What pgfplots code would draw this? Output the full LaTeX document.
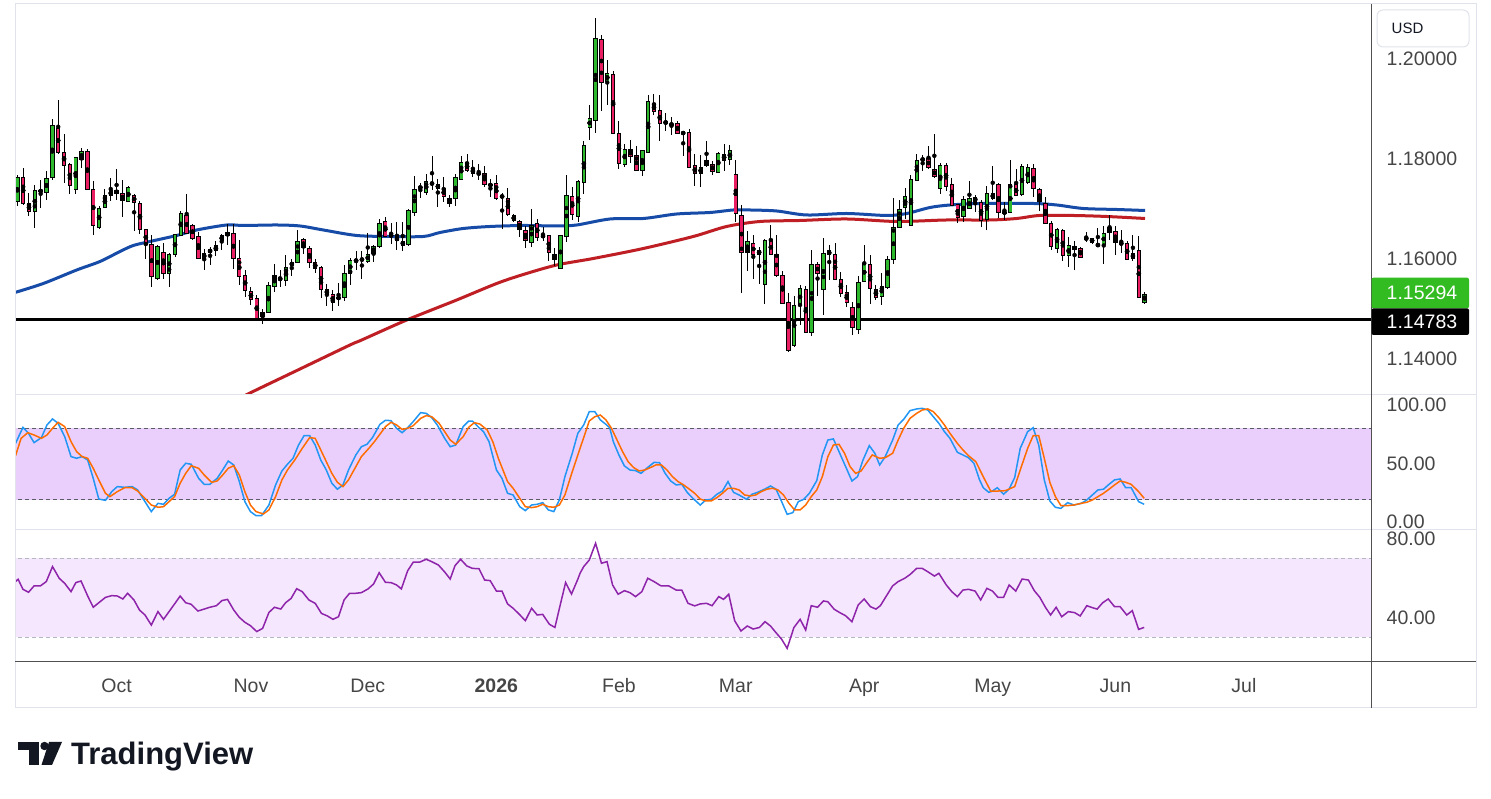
\documentclass[border=0pt]{standalone}
\usepackage{fontspec}
\setmainfont{Liberation Sans}
\usepackage{pgfplots}
\usepackage{pgfplotstable}
\pgfplotsset{compat=1.18}

\definecolor{cgreen}{RGB}{46,184,46}
\definecolor{cpink}{RGB}{233,30,99}
\definecolor{mablue}{RGB}{22,76,168}
\definecolor{mared}{RGB}{190,30,36}
\definecolor{stk}{RGB}{33,150,243}
\definecolor{std}{RGB}{255,109,0}
\definecolor{stband}{RGB}{234,207,252}
\definecolor{stdash}{RGB}{90,92,102}
\definecolor{rsiline}{RGB}{142,36,170}
\definecolor{rsiband}{RGB}{245,231,254}
\definecolor{rsidash}{RGB}{180,182,192}
\definecolor{lblgrey}{RGB}{70,70,70}
\definecolor{framec}{RGB}{224,227,235}
\definecolor{darkline}{RGB}{80,80,80}
\definecolor{badgegreen}{RGB}{51,187,34}
\definecolor{tvblack}{RGB}{19,23,34}

\pgfplotstableread{
i o h l c
0 1.1714 1.1767 1.1705 1.1762
1 1.1762 1.1780 1.1707 1.1710
2 1.1710 1.1730 1.1684 1.1694
3 1.1694 1.1747 1.1662 1.1735
4 1.1735 1.1757 1.1702 1.1735
5 1.1732 1.1776 1.1717 1.1760
6 1.1762 1.1878 1.1757 1.1867
7 1.1860 1.1918 1.1809 1.1812
8 1.1812 1.1849 1.1752 1.1786
9 1.1788 1.1792 1.1730 1.1746
10 1.1738 1.1802 1.1728 1.1802
11 1.1798 1.1820 1.1780 1.1814
12 1.1814 1.1818 1.1738 1.1738
13 1.1738 1.1755 1.1648 1.1666
14 1.1662 1.1706 1.1660 1.1701
15 1.1702 1.1740 1.1702 1.1726
16 1.1726 1.1762 1.1716 1.1735
17 1.1737 1.1778 1.1716 1.1730
18 1.1730 1.1758 1.1684 1.1716
19 1.1714 1.1744 1.1714 1.1742
20 1.1726 1.1729 1.1656 1.1712
21 1.1710 1.1715 1.1650 1.1658
22 1.1657 1.1658 1.1600 1.1628
23 1.1627 1.1648 1.1544 1.1564
24 1.1560 1.1627 1.1558 1.1624
25 1.1612 1.1632 1.1560 1.1570
26 1.1570 1.1612 1.1544 1.1609
27 1.1608 1.1650 1.1604 1.1647
28 1.1646 1.1695 1.1644 1.1689
29 1.1686 1.1729 1.1649 1.1650
30 1.1667 1.1670 1.1638 1.1640
31 1.1644 1.1654 1.1599 1.1600
32 1.1600 1.1620 1.1577 1.1610
33 1.1612 1.1624 1.1587 1.1618
34 1.1616 1.1634 1.1604 1.1625
35 1.1636 1.1650 1.1618 1.1645
36 1.1646 1.1669 1.1627 1.1652
37 1.1650 1.1669 1.1579 1.1600
38 1.1600 1.1637 1.1547 1.1564
39 1.1567 1.1577 1.1524 1.1536
40 1.1534 1.1544 1.1507 1.1518
41 1.1520 1.1527 1.1477 1.1480
42 1.1484 1.1499 1.1470 1.1492
43 1.1492 1.1552 1.1490 1.1546
44 1.1544 1.1590 1.1534 1.1566
45 1.1559 1.1577 1.1544 1.1559
46 1.1556 1.1607 1.1544 1.1582
47 1.1586 1.1598 1.1564 1.1592
48 1.1592 1.1656 1.1592 1.1634
49 1.1637 1.1640 1.1608 1.1622
50 1.1620 1.1625 1.1582 1.1592
51 1.1592 1.1599 1.1572 1.1580
52 1.1582 1.1584 1.1520 1.1538
53 1.1538 1.1550 1.1505 1.1528
54 1.1528 1.1537 1.1494 1.1512
55 1.1520 1.1550 1.1504 1.1522
56 1.1522 1.1586 1.1514 1.1570
57 1.1570 1.1600 1.1547 1.1597
58 1.1596 1.1614 1.1576 1.1596
59 1.1598 1.1614 1.1558 1.1598
60 1.1594 1.1652 1.1592 1.1609
61 1.1610 1.1627 1.1592 1.1625
62 1.1624 1.1679 1.1622 1.1670
63 1.1673 1.1682 1.1642 1.1644
64 1.1646 1.1670 1.1629 1.1646
65 1.1642 1.1674 1.1617 1.1636
66 1.1635 1.1674 1.1616 1.1626
67 1.1628 1.1700 1.1625 1.1697
68 1.1692 1.1764 1.1684 1.1738
69 1.1742 1.1752 1.1722 1.1742
70 1.1732 1.1769 1.1727 1.1754
71 1.1752 1.1805 1.1736 1.1748
72 1.1748 1.1760 1.1704 1.1740
73 1.1740 1.1764 1.1714 1.1724
74 1.1720 1.1727 1.1704 1.1710
75 1.1720 1.1769 1.1704 1.1762
76 1.1758 1.1805 1.1758 1.1792
77 1.1792 1.1808 1.1773 1.1776
78 1.1780 1.1797 1.1762 1.1770
79 1.1768 1.1789 1.1757 1.1772
80 1.1770 1.1785 1.1744 1.1748
81 1.1747 1.1758 1.1722 1.1747
82 1.1750 1.1767 1.1718 1.1720
83 1.1724 1.1732 1.1660 1.1724
84 1.1720 1.1742 1.1685 1.1688
85 1.1686 1.1689 1.1672 1.1676
86 1.1675 1.1678 1.1644 1.1658
87 1.1657 1.1665 1.1620 1.1636
88 1.1632 1.1698 1.1622 1.1666
89 1.1670 1.1679 1.1636 1.1642
90 1.1645 1.1662 1.1634 1.1645
91 1.1646 1.1647 1.1594 1.1612
92 1.1608 1.1620 1.1585 1.1598
93 1.1580 1.1647 1.1580 1.1646
94 1.1644 1.1768 1.1634 1.1726
95 1.1725 1.1744 1.1677 1.1688
96 1.1684 1.1757 1.1672 1.1755
97 1.1752 1.1835 1.1730 1.1827
98 1.1862 1.1907 1.1836 1.1880
99 1.1876 1.2082 1.1852 1.2040
100 1.2038 1.2047 1.1896 1.1952
101 1.1954 1.1997 1.1907 1.1970
102 1.1968 1.1975 1.1850 1.1850
103 1.1850 1.1875 1.1778 1.1790
104 1.1788 1.1828 1.1782 1.1818
105 1.1818 1.1838 1.1792 1.1804
106 1.1806 1.1824 1.1776 1.1777
107 1.1776 1.1817 1.1766 1.1816
108 1.1812 1.1927 1.1812 1.1915
109 1.1910 1.1929 1.1888 1.1894
110 1.1895 1.1927 1.1834 1.1870
111 1.1872 1.1890 1.1854 1.1872
112 1.1868 1.1884 1.1847 1.1868
113 1.1870 1.1874 1.1848 1.1850
114 1.1852 1.1855 1.1806 1.1850
115 1.1852 1.1859 1.1782 1.1782
116 1.1785 1.1808 1.1744 1.1770
117 1.1770 1.1807 1.1744 1.1782
118 1.1796 1.1835 1.1784 1.1785
119 1.1788 1.1796 1.1768 1.1774
120 1.1772 1.1814 1.1772 1.1810
121 1.1808 1.1829 1.1776 1.1797
122 1.1797 1.1827 1.1788 1.1816
123 1.1769 1.1797 1.1674 1.1690
124 1.1686 1.1707 1.1532 1.1612
125 1.1612 1.1656 1.1576 1.1635
126 1.1630 1.1647 1.1560 1.1608
127 1.1608 1.1622 1.1548 1.1617
128 1.1548 1.1638 1.1509 1.1637
129 1.1637 1.1667 1.1607 1.1608
130 1.1608 1.1647 1.1564 1.1566
131 1.1567 1.1575 1.1509 1.1510
132 1.1512 1.1530 1.1412 1.1416
133 1.1426 1.1526 1.1424 1.1507
134 1.1506 1.1547 1.1467 1.1540
135 1.1538 1.1546 1.1452 1.1452
136 1.1452 1.1617 1.1444 1.1588
137 1.1588 1.1594 1.1526 1.1570
138 1.1538 1.1640 1.1486 1.1610
139 1.1615 1.1628 1.1558 1.1608
140 1.1607 1.1630 1.1557 1.1558
141 1.1558 1.1572 1.1522 1.1530
142 1.1532 1.1548 1.1504 1.1512
143 1.1502 1.1512 1.1447 1.1462
144 1.1458 1.1565 1.1448 1.1552
145 1.1555 1.1627 1.1554 1.1590
146 1.1588 1.1607 1.1510 1.1540
147 1.1538 1.1548 1.1517 1.1522
148 1.1525 1.1572 1.1508 1.1545
149 1.1542 1.1605 1.1540 1.1598
150 1.1597 1.1722 1.1590 1.1662
151 1.1662 1.1718 1.1662 1.1698
152 1.1702 1.1740 1.1678 1.1725
153 1.1666 1.1767 1.1666 1.1758
154 1.1757 1.1810 1.1757 1.1797
155 1.1798 1.1807 1.1774 1.1798
156 1.1800 1.1825 1.1778 1.1782
157 1.1778 1.1849 1.1762 1.1765
158 1.1740 1.1790 1.1729 1.1786
159 1.1787 1.1790 1.1734 1.1745
160 1.1748 1.1762 1.1705 1.1706
161 1.1707 1.1709 1.1670 1.1682
162 1.1684 1.1725 1.1674 1.1718
163 1.1700 1.1755 1.1700 1.1720
164 1.1722 1.1727 1.1694 1.1714
165 1.1712 1.1717 1.1662 1.1676
166 1.1678 1.1744 1.1656 1.1730
167 1.1730 1.1785 1.1718 1.1720
168 1.1748 1.1752 1.1682 1.1692
169 1.1692 1.1714 1.1678 1.1692
170 1.1692 1.1797 1.1692 1.1748
171 1.1747 1.1778 1.1724 1.1725
172 1.1728 1.1788 1.1724 1.1785
173 1.1752 1.1789 1.1749 1.1782
174 1.1780 1.1789 1.1724 1.1740
175 1.1737 1.1742 1.1696 1.1714
176 1.1710 1.1722 1.1668 1.1670
177 1.1670 1.1675 1.1618 1.1624
178 1.1620 1.1660 1.1610 1.1657
179 1.1656 1.1658 1.1594 1.1606
180 1.1606 1.1644 1.1584 1.1626
181 1.1624 1.1636 1.1578 1.1618
182 1.1620 1.1624 1.1602 1.1602
183 1.1638 1.1652 1.1632 1.1642
184 1.1640 1.1642 1.1629 1.1632
185 1.1628 1.1662 1.1624 1.1626
186 1.1628 1.1664 1.1588 1.1650
187 1.1652 1.1687 1.1638 1.1662
188 1.1655 1.1665 1.1608 1.1632
189 1.1630 1.1657 1.1610 1.1630
190 1.1630 1.1634 1.1596 1.1598
191 1.1600 1.1647 1.1596 1.1610
192 1.1617 1.1645 1.1520 1.1522
193 1.1512 1.1534 1.1510 1.1529
}\candles

\newcommand{\lblfont}{\fontsize{19.5}{22}\selectfont}

\pgfplotsset{
  tvpane/.style={
    anchor=south west, scale only axis, width=1356.5pt,
    xmin=-0.394, xmax=231.84,
    axis line style={draw=none},
    major tick length=0pt,
    yticklabel pos=right,
    yticklabel style={anchor=west, inner sep=0pt, xshift=15pt, font=\lblfont, text=lblgrey},
    xtick=\empty,
  }
}

\begin{document}
\begin{tikzpicture}[x=1pt,y=1pt]
\path[use as bounding box] (0,0) rectangle (1491,799);
\fill[white] (0,0) rectangle (1491,799);

% ---------- main price pane ----------
\begin{axis}[tvpane, at={(15pt,405pt)}, height=389pt,
  ymin=1.1329, ymax=1.2107,
  ytick={1.14,1.16,1.18,1.20},
  yticklabels={1.14000,1.16000,1.18000,1.20000}]
\addplot[mablue, line width=3pt, smooth] coordinates {
(-0.4,1.1532) (4.45,1.1550) (10.17,1.1577) (14.16,1.1594) (17.58,1.1614) (19.86,1.1626)
(22.72,1.1634) (27.29,1.1646) (30.71,1.1657) (35.85,1.1667) (38.69,1.1666) (44.41,1.1667)
(48.4,1.1665) (52.39,1.1657) (58.11,1.1646) (63.81,1.1644) (69.51,1.1644) (72.37,1.1652)
(76.36,1.1660) (80.93,1.1664) (86.63,1.1666) (92.35,1.1665) (95.77,1.1667) (101.47,1.1679)
(107.17,1.1680) (112.89,1.1689) (118.59,1.1692) (122.58,1.1697) (125.44,1.1697) (130.01,1.1695)
(135.15,1.1687) (141.99,1.1690) (148.84,1.1686) (152.27,1.1690) (156.26,1.1702) (159.68,1.1707)
(164.82,1.1710) (173.94,1.1710) (177.95,1.1707) (182.5,1.1700) (188.22,1.1698) (193.07,1.1696)};
\addplot[mared, line width=3pt, smooth] coordinates {
(38.5,1.1322) (39.84,1.1331) (48.4,1.1379) (56.96,1.1427) (58.96,1.1437) (66.67,1.1477)
(75.23,1.1517) (82.07,1.1550) (86.63,1.1568) (92.35,1.1587) (98.61,1.1600) (107.17,1.1620)
(115.73,1.1644) (121.45,1.1664) (127.15,1.1674) (134.0,1.1676) (141.99,1.1679) (150.55,1.1674)
(159.11,1.1677) (166.52,1.1677) (171.1,1.1680) (175.0,1.1686) (180.8,1.1686) (186.5,1.1684)
(193.07,1.1680)};
\addplot[black, line width=3pt] coordinates {(-1,1.14783) (233,1.14783)};
% wicks
\addplot[only marks, mark=none,
  error bars/.cd, y dir=both, y explicit, error mark=none,
  error bar style={line width=1pt, draw=black}]
  table[x=i, y expr={(\thisrow{h}+\thisrow{l})/2}, y error expr={(\thisrow{h}-\thisrow{l})/2}]{\candles};
% body outlines
\addplot[only marks, mark=none,
  error bars/.cd, y dir=both, y explicit, error mark=none,
  error bar style={line width=4.4pt, draw=black}]
  table[x=i, y expr={(\thisrow{o}+\thisrow{c})/2}, y error expr={abs(\thisrow{c}-\thisrow{o})/2+0.0001}]{\candles};
% up bodies
\addplot[only marks, mark=none,
  error bars/.cd, y dir=both, y explicit, error mark=none,
  error bar style={line width=2.6pt, draw=cgreen}]
  table[x=i, y expr={(\thisrow{o}+\thisrow{c})/2}, y error expr={max((\thisrow{c}-\thisrow{o})/2-0.0001,0)}]{\candles};
% down bodies
\addplot[only marks, mark=none,
  error bars/.cd, y dir=both, y explicit, error mark=none,
  error bar style={line width=2.6pt, draw=cpink}]
  table[x=i, y expr={(\thisrow{o}+\thisrow{c})/2}, y error expr={max((\thisrow{o}-\thisrow{c})/2-0.0001,0)}]{\candles};
\end{axis}

% ---------- stochastic pane ----------
\begin{axis}[tvpane, at={(15pt,270pt)}, height=134pt,
  ymin=-4.27, ymax=107.87,
  ytick={0,50,100}, yticklabels={\raisebox{5pt}{0.00},50.00,100.00}]
\addplot[draw=none, fill=stband] coordinates {(-1,20) (233,20) (233,80) (-1,80)} -- cycle;
\addplot[stdash, line width=1pt, dash pattern=on 4pt off 3pt] coordinates {(-1,80) (233,80)};
\addplot[stdash, line width=1pt, dash pattern=on 4pt off 3pt] coordinates {(-1,20) (233,20)};
\addplot[stk, line width=1.5pt] coordinates {
(-0.30,67.4) (0.97,80.8) (1.92,75.8) (2.87,68.0) (4.13,72.2) (5.08,82.8) (6.03,87.8) (6.98,84.2)
(8.12,73.0) (9.20,56.3) (10.15,54.9) (11.10,56.3) (12.05,53.5) (13.00,38.1) (13.95,20.8) (15.09,19.7)
(16.17,27.0) (17.12,31.2) (18.38,30.6) (19.65,31.2) (20.60,28.4) (21.86,18.6) (22.94,10.3) (24.08,17.2)
(25.03,16.4) (25.98,21.4) (26.93,24.8) (27.88,45.1) (28.83,50.7) (29.78,49.9) (31.05,38.1) (32.00,33.1)
(32.95,33.1) (34.21,38.1) (35.16,45.1) (36.11,52.6) (37.06,49.3) (38.01,35.4) (38.96,18.6) (39.91,10.3)
(40.86,6.9) (41.81,6.9) (43.08,15.8) (44.22,32.6) (45.30,44.3) (46.25,49.9) (47.20,54.9) (48.15,66.0)
(49.10,73.9) (50.05,73.9) (51.00,66.0) (51.95,53.5) (52.90,45.1) (53.85,34.0) (54.80,29.0) (55.75,32.6)
(56.70,45.1) (57.96,57.7) (58.91,64.6) (59.86,66.6) (60.81,72.2) (62.08,83.3) (63.03,86.7) (63.98,86.4)
(64.93,80.0) (65.88,76.3) (66.83,80.5) (67.78,85.6) (69.05,93.1) (70.00,92.5) (70.95,88.9) (71.90,82.8)
(73.16,71.6) (74.11,64.6) (75.06,66.0) (76.33,81.4) (77.28,86.1) (77.91,86.1) (78.86,81.4) (79.81,77.2)
(80.76,68.8) (82.03,45.1) (82.98,38.1) (83.93,25.6) (84.88,24.2) (86.02,14.4) (86.97,11.1) (88.05,15.8)
(89.00,16.4) (89.95,17.8) (90.90,11.7) (91.85,10.3) (92.80,20.0) (93.75,39.5) (95.01,59.1) (95.96,75.8)
(96.97,82.8) (97.92,93.9) (98.87,93.9) (99.82,87.0) (100.77,83.3) (101.41,80.5) (102.04,68.8) (102.99,57.7)
(103.94,48.5) (104.89,45.1) (105.84,44.6) (106.79,42.3) (107.74,46.5) (109.01,51.5) (109.96,51.2) (110.91,42.3)
(111.86,35.9) (112.81,32.6) (113.76,33.1) (114.71,26.2) (115.66,21.4) (116.92,15.8) (117.87,20.0) (118.82,20.6)
(119.77,24.8) (120.72,27.5) (121.67,35.4) (122.62,26.4) (123.57,24.2) (124.84,20.6) (125.79,24.8) (126.74,26.4)
(128.01,29.2) (128.95,31.7) (129.90,29.0) (130.86,18.6) (131.80,8.0) (132.76,9.4) (133.70,18.6) (134.65,20.6)
(135.60,25.6) (136.87,36.2) (137.82,57.7) (138.77,70.2) (139.72,71.1) (140.67,60.5) (141.94,46.5) (142.89,35.9)
(143.84,39.5) (144.79,53.5) (145.86,65.5) (146.81,59.1) (147.64,49.3) (148.59,56.3) (149.86,70.2) (150.80,82.8)
(151.75,87.5) (152.83,94.8) (153.97,96.2) (154.92,96.7) (155.87,95.3) (156.82,89.7) (157.77,84.2) (158.72,77.2)
(159.67,71.6) (160.94,59.9) (161.89,57.7) (162.84,55.4) (163.78,50.7) (164.74,36.8) (165.37,30.3) (166.32,26.4)
(166.95,27.5) (167.78,30.3) (168.85,24.8) (169.80,29.2) (170.75,38.7) (171.70,63.2) (172.97,77.2) (173.92,80.5)
(174.87,66.0) (175.82,36.8) (176.77,19.2) (177.72,13.9) (178.67,13.0) (179.81,17.8) (180.89,15.8) (182.15,17.2)
(183.10,20.0) (184.05,24.2) (185.00,28.4) (185.95,29.0) (186.90,33.1) (187.85,36.8) (188.80,37.6) (189.75,30.3)
(190.70,30.3) (191.97,18.6) (192.92,16.4)};
\addplot[std, line width=1.5pt] coordinates {
(-0.30,57.1) (0.65,71.6) (1.79,76.3) (2.87,74.4) (4.13,71.6) (5.08,74.4) (6.03,80.0) (6.98,85.0)
(8.12,81.4) (9.20,68.8) (10.15,60.5) (11.10,56.3) (12.05,54.9) (13.00,46.5) (13.95,36.8) (15.09,25.6)
(15.85,22.8) (17.12,27.0) (18.38,30.3) (19.65,30.3) (20.60,27.5) (21.86,21.4) (22.94,15.8) (24.08,13.9)
(25.03,14.4) (25.98,18.6) (26.93,22.8) (27.88,34.0) (28.83,42.3) (29.78,48.7) (31.05,46.5) (32.00,40.9)
(33.27,34.8) (34.21,35.9) (35.16,40.9) (36.11,46.5) (37.06,48.7) (38.01,40.9) (38.96,27.0) (39.91,15.8)
(40.86,10.3) (42.13,8.3) (43.08,11.7) (44.22,22.8) (45.30,36.8) (46.25,45.1) (47.51,53.5) (48.78,63.2)
(50.05,72.2) (51.00,71.6) (51.95,61.9) (52.90,52.1) (53.85,42.3) (54.80,34.8) (55.75,31.2) (56.70,36.8)
(57.96,47.9) (58.91,56.3) (60.18,63.2) (61.13,68.8) (62.08,75.0) (63.03,81.4) (63.98,85.0) (64.93,82.8)
(65.88,79.1) (66.83,80.0) (67.78,82.2) (69.05,88.3) (70.00,90.6) (70.95,89.7) (72.21,84.2) (73.16,77.2)
(74.11,70.2) (75.06,66.6) (76.33,73.0) (77.28,80.8) (78.23,84.7) (79.18,83.6) (80.45,78.6) (81.40,68.8)
(82.35,54.9) (83.93,35.4) (84.88,29.8) (86.02,21.4) (86.97,14.4) (88.05,13.6) (89.00,14.4) (89.95,16.4)
(90.90,14.4) (91.85,13.9) (92.80,15.8) (93.75,24.2) (95.01,43.7) (96.34,63.2) (96.97,72.2) (97.92,86.1)
(98.87,89.7) (99.82,91.1) (100.77,87.0) (101.72,80.0) (102.67,70.2) (103.62,60.5) (104.57,52.1) (105.52,47.1)
(106.47,44.3) (107.42,45.1) (108.37,47.1) (109.32,49.3) (110.27,49.3) (111.22,45.1) (112.17,39.5) (113.12,35.4)
(114.07,32.6) (115.02,29.2) (115.97,25.6) (116.92,20.8) (117.87,19.2) (118.82,19.2) (119.77,22.0) (120.72,25.6)
(121.67,29.8) (122.62,29.8) (123.57,28.4) (124.52,24.2) (125.47,23.4) (126.42,24.2) (127.37,27.0) (128.32,29.0)
(129.27,29.8) (130.22,28.4) (131.17,24.2) (132.12,17.2) (133.07,11.7) (134.02,11.7) (134.97,15.8) (135.92,22.8)
(136.87,28.4) (137.82,39.5) (138.77,56.3) (139.72,66.0) (140.67,66.6) (141.62,59.1) (142.57,47.9) (143.52,42.3)
(144.47,44.3) (145.42,51.2) (146.37,57.7) (147.64,54.9) (148.59,55.4) (149.86,59.1) (150.80,70.2) (151.75,80.0)
(152.83,88.3) (153.97,92.5) (154.92,95.3) (155.87,96.2) (156.82,93.9) (157.77,88.9) (158.72,82.8) (159.67,75.8)
(160.94,67.4) (161.89,61.9) (162.84,57.1) (164.10,52.1) (165.37,39.5) (166.64,27.5) (167.90,27.5) (169.17,27.8)
(170.75,31.2) (171.70,45.1) (172.97,63.2) (173.92,73.9) (174.87,73.9) (175.82,54.9) (176.77,34.8) (177.72,22.8)
(178.67,15.3) (179.81,15.3) (180.89,15.8) (182.15,17.2) (183.10,18.1) (184.05,20.0) (185.00,22.8) (185.95,25.6)
(186.90,29.0) (187.85,32.6) (188.80,35.9) (189.75,34.8) (190.70,33.1) (191.97,27.0) (192.92,21.4)};
\end{axis}

% ---------- RSI pane ----------
\begin{axis}[tvpane, at={(15pt,137.5pt)}, height=132pt,
  ymin=17.75, ymax=84.58,
  ytick={40,80}, yticklabels={40.00,\raisebox{-3.5pt}{80.00}},
  xtick={17,40,60,82,103,123,145,167,188,210},
  xticklabels={Oct,Nov,Dec,\textbf{2026},Feb,Mar,Apr,May,Jun,Jul},
  xticklabel style={anchor=north, inner sep=0pt, yshift=-17pt, font=\lblfont, text=lblgrey}]
\addplot[draw=none, fill=rsiband] coordinates {(-1,30) (233,30) (233,70) (-1,70)} -- cycle;
\addplot[rsidash, line width=1pt, dash pattern=on 4pt off 3pt] coordinates {(-1,70) (233,70)};
\addplot[rsidash, line width=1pt, dash pattern=on 4pt off 3pt] coordinates {(-1,30) (233,30)};
\addplot[rsiline, line width=1.5pt] coordinates {
(-0.30,58.2) (0.14,59.4) (0.97,54.3) (1.92,52.8) (2.87,56.0) (3.94,56.0) (4.96,58.2) (6.03,65.8)
(7.17,59.9) (8.12,57.3) (9.20,53.1) (10.02,57.7) (10.91,58.5) (12.05,50.9) (13.00,45.2) (13.95,47.5)
(15.09,50.2) (16.17,51.1) (17.12,50.9) (18.07,49.4) (18.89,52.3) (19.97,48.9) (20.92,43.8) (21.86,41.3)
(22.94,36.2) (24.08,43.0) (25.03,39.1) (25.98,43.0) (26.93,46.9) (27.88,50.9) (28.83,47.5) (29.78,46.7)
(30.92,43.3) (32.00,44.3) (32.95,45.2) (34.09,46.0) (35.04,48.6) (35.99,49.2) (37.06,43.8) (38.01,40.1)
(38.96,37.6) (39.91,35.9) (40.99,32.9) (42.00,34.5) (43.08,42.6) (44.03,45.2) (45.11,44.3) (45.93,47.5)
(46.88,49.7) (47.83,54.6) (48.78,53.1) (49.92,48.9) (51.00,47.2) (52.07,42.1) (53.09,40.8) (54.04,39.1)
(54.99,40.4) (55.94,48.9) (56.89,52.3) (57.96,52.3) (58.91,52.6) (60.05,54.5) (61.00,57.0) (61.95,62.7)
(63.03,57.8) (63.98,57.7) (64.93,56.5) (65.75,54.5) (66.83,63.7) (67.78,68.0) (68.92,68.1) (70.00,69.5)
(70.95,68.3) (72.09,66.6) (73.16,63.1) (74.11,59.5) (74.94,66.3) (75.89,69.5) (76.96,66.1) (77.91,64.9)
(79.05,64.7) (80.00,59.0) (80.95,58.7) (82.03,53.4) (82.98,53.4) (83.93,46.9) (84.88,44.7) (85.96,41.6)
(86.97,38.4) (88.05,44.7) (89.00,41.3) (89.95,41.6) (91.09,36.6) (92.04,35.0) (92.99,46.9) (93.87,57.7)
(94.88,51.9) (95.96,59.4) (96.34,62.4) (96.97,65.8) (97.92,69.1) (99.00,77.6) (100.01,67.5) (100.96,68.3)
(101.91,56.5) (102.86,51.8) (103.94,53.6) (104.89,52.6) (105.84,50.6) (106.92,53.1) (107.93,59.9) (109.01,58.2)
(110.15,56.1) (111.54,56.0) (112.81,53.9) (113.76,53.9) (114.83,47.2) (115.97,45.9) (116.92,46.9) (118.00,47.2)
(118.95,46.0) (120.09,50.6) (120.91,49.2) (121.80,51.8) (122.81,38.4) (123.89,33.2) (124.97,35.7) (125.98,34.2)
(127.06,35.0) (128.01,37.9) (128.95,35.7) (129.90,32.3) (130.86,29.0) (131.80,24.4) (132.95,34.9) (134.02,39.1)
(134.97,33.7) (135.92,46.0) (137.00,45.2) (138.01,48.4) (138.77,48.0) (139.85,44.2) (140.80,42.5) (141.81,40.9)
(142.89,37.9) (143.96,46.4) (144.98,49.4) (146.05,45.5) (147.00,44.3) (147.76,46.0) (148.78,50.9) (149.85,56.0)
(150.80,58.2) (151.94,59.9) (152.89,61.9) (153.97,64.9) (154.92,64.9) (155.87,63.2) (157.01,61.0) (157.77,62.4)
(159.04,56.5) (159.99,53.1) (160.94,50.6) (161.89,53.9) (162.84,54.3) (163.98,53.4) (164.93,48.9) (166.00,54.8)
(166.95,53.4) (167.90,50.2) (168.85,50.2) (169.80,56.5) (170.94,53.4) (172.02,59.5) (173.10,59.0) (174.11,53.6)
(175.06,50.2) (176.01,45.2) (176.90,41.3) (177.85,45.2) (178.80,40.4) (179.94,43.0) (181.01,42.5) (181.96,40.8)
(183.10,46.0) (184.05,45.0) (184.87,44.3) (185.82,47.5) (186.77,49.4) (187.85,45.5) (188.80,45.5) (189.94,41.3)
(190.89,43.5) (191.97,34.0) (192.92,35.0)};
\end{axis}

% ---------- frame and separators ----------
\draw[framec, line width=1pt] (15,91) rectangle (1476,795);
\draw[framec, line width=1pt] (15,404) -- (1476,404);
\draw[framec, line width=1pt] (15,269.7) -- (1476,269.7);
\draw[darkline, line width=1pt] (15,137.5) -- (1476,137.5);
\draw[darkline, line width=1pt] (1371.5,91) -- (1371.5,795);

% ---------- price scale badges ----------
\node[draw=framec, line width=1pt, fill=white, rounded corners=6pt, minimum width=92pt, minimum height=37pt, inner sep=0pt] at (1423,770.5) {};
\node[anchor=west, inner sep=0pt, text=tvblack, font=\fontsize{15}{17}\selectfont] at (1391.5,770.5) {USD};
\fill[badgegreen, rounded corners=2pt] (1371.5,490.7) rectangle (1469,521.3);
\node[anchor=west, inner sep=0pt, text=white, font=\lblfont] at (1386.5,506) {1.15294};
\fill[black, rounded corners=2pt] (1371.5,464) rectangle (1469,490.7);
\node[anchor=west, inner sep=0pt, text=white, font=\lblfont] at (1386.5,477.3) {1.14783};

% ---------- TradingView logo ----------
\fill[tvblack] (18,57) rectangle (39,49);
\fill[tvblack] (29,57) rectangle (39,34);
\fill[tvblack] (44.5,53) circle (4.2);
\fill[tvblack] (49,57) -- (62,57) -- (52,34) -- (41.5,34) -- cycle;
\node[anchor=base west, inner sep=0pt, text=tvblack, font=\fontsize{31}{34}\selectfont\bfseries] at (71,34) {TradingView};
\end{tikzpicture}
\end{document}
